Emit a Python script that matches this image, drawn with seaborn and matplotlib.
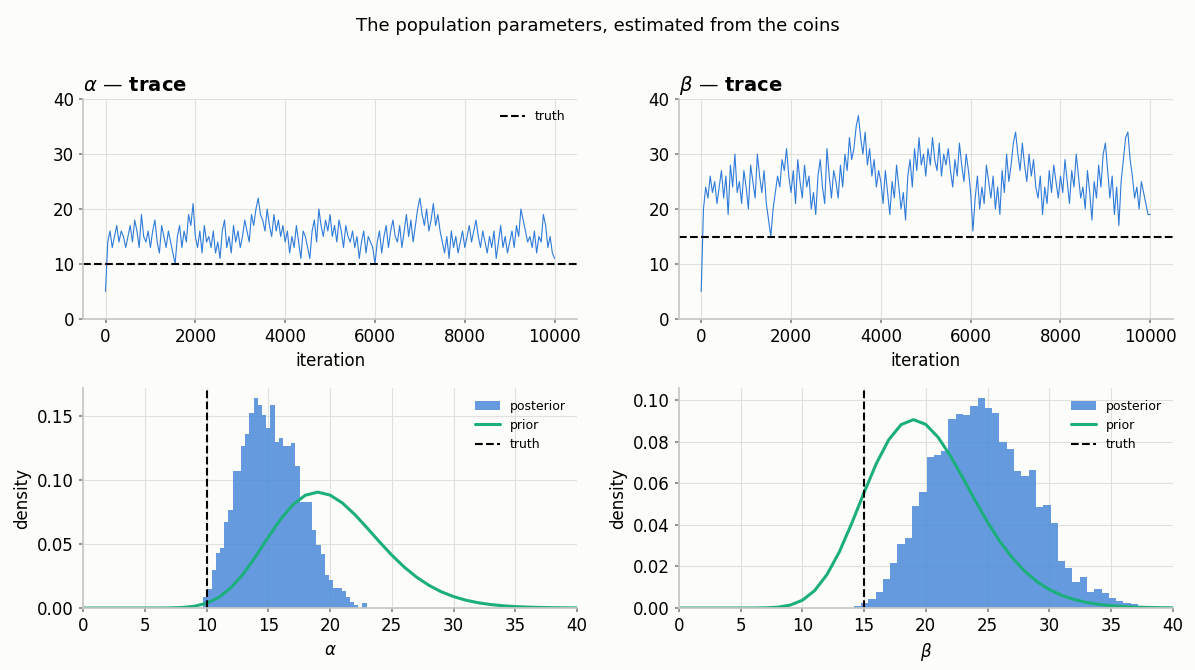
import numpy as np
import matplotlib
matplotlib.use("Agg")
import matplotlib.pyplot as plt
import seaborn as sns

# trace samples read every 50 iterations
trace_iter = list(range(0, 10001, 50))
alpha_trace = [
    5, 14, 16, 13, 15, 17, 14, 16, 15, 13,
    15, 17, 14, 18, 16, 13, 19, 15, 14, 16,
    13, 16, 18, 14, 12, 17, 15, 13, 16, 14,
    12, 10, 15, 17, 13, 16, 14, 19, 17, 21,
    15, 13, 16, 12, 17, 14, 15, 13, 16, 12,
    14, 11, 16, 18, 13, 15, 12, 17, 14, 16,
    13, 15, 18, 16, 14, 19, 17, 20, 22, 19,
    18, 16, 20, 17, 15, 19, 16, 18, 15, 17,
    14, 16, 12, 15, 13, 17, 14, 11, 16, 15,
    13, 11, 16, 18, 14, 20, 17, 15, 18, 16,
    19, 15, 17, 14, 18, 16, 13, 17, 15, 14,
    16, 13, 15, 11, 14, 16, 12, 15, 14, 13,
    10, 14, 16, 12, 15, 17, 13, 16, 18, 15,
    14, 17, 13, 16, 19, 15, 18, 14, 17, 20,
    22, 19, 17, 20, 16, 18, 21, 17, 19, 16,
    14, 12, 15, 11, 16, 13, 15, 12, 14, 16,
    13, 15, 17, 14, 16, 18, 15, 13, 16, 14,
    12, 15, 13, 16, 11, 14, 17, 13, 15, 12,
    14, 16, 13, 17, 15, 20, 18, 16, 14, 15,
    13, 16, 12, 15, 14, 19, 17, 13, 15, 12,
    11]
beta_trace = [
    5, 20, 24, 22, 26, 23, 25, 21, 24, 27,
    22, 26, 19, 28, 24, 30, 23, 25, 21, 27,
    24, 20, 28, 25, 22, 30, 26, 23, 27, 21,
    18, 15, 20, 23, 26, 24, 29, 27, 31, 26,
    23, 27, 21, 29, 25, 22, 28, 24, 26, 20,
    23, 19, 26, 29, 24, 21, 31, 26, 22, 27,
    25, 22, 28, 24, 30, 27, 33, 29, 31, 35,
    37, 33, 30, 34, 28, 31, 26, 29, 24, 27,
    25, 21, 27, 23, 19, 25, 22, 28, 24, 20,
    23, 18, 26, 29, 24, 31, 27, 33, 28, 30,
    26, 31, 28, 33, 29, 27, 32, 26, 30, 28,
    31, 27, 24, 29, 26, 32, 28, 25, 30, 27,
    23, 16, 22, 26, 20, 24, 21, 28, 25, 22,
    26, 20, 24, 19, 27, 23, 30, 25, 28, 32,
    34, 30, 27, 32, 28, 25, 30, 26, 29, 24,
    22, 26, 19, 24, 21, 27, 23, 28, 25, 22,
    26, 23, 29, 25, 21, 27, 24, 30, 26, 22,
    24, 20, 27, 23, 18, 25, 22, 28, 24, 30,
    32, 27, 22, 26, 19, 24, 17, 25, 29, 33,
    34, 29, 26, 22, 24, 20, 25, 23, 21, 19,
    19]

# posterior histograms (bin start, bin width, densities)
alpha_bin_start, alpha_bin_width = 9.74, 0.339
alpha_density = [0.009, 0.015, 0.030, 0.043, 0.047, 0.067, 0.077, 0.107, 0.107, 0.127,
                 0.136, 0.153, 0.164, 0.159, 0.151, 0.141, 0.159, 0.130, 0.133, 0.127,
                 0.127, 0.129, 0.111, 0.083, 0.083, 0.083, 0.061, 0.049, 0.042, 0.026,
                 0.022, 0.016, 0.016, 0.013, 0.009, 0.0047, 0.0023, 0.0, 0.004]
beta_bin_start, beta_bin_width = 14.17, 0.59
beta_density = [0.001, 0.0026, 0.0045, 0.0077, 0.014, 0.0216, 0.031, 0.0336, 0.049, 0.056,
                0.0726, 0.0739, 0.0755, 0.0909, 0.0933, 0.0929, 0.0973, 0.101, 0.0962, 0.0938,
                0.0799, 0.0768, 0.066, 0.0635, 0.0663, 0.0486, 0.0495, 0.041, 0.0226, 0.0193,
                0.0125, 0.0149, 0.0078, 0.0091, 0.0071, 0.0048, 0.0035, 0.0026, 0.0018, 0.001,
                0.0005]

# prior density at x = 0..40
prior_x = list(range(0, 41))
prior_y = [0, 0, 0, 0, 0, 0.000001, 0.000013, 0.000085, 0.000396, 0.00137,
           0.00372, 0.00836, 0.0161, 0.0270, 0.0407, 0.0555, 0.0696, 0.0810, 0.0883, 0.0907,
           0.0884, 0.0822, 0.0732, 0.0627, 0.0518, 0.0414, 0.0321, 0.0242, 0.0178, 0.01274,
           0.00893, 0.00612, 0.00412, 0.00272, 0.00176, 0.00113, 0.00071, 0.00044, 0.00027, 0.00016,
           0.0001]

alpha_truth, beta_truth = 10, 15

BG = "#fcfcfa"
BLUE = "#2f7bd9"
HIST = "#4a8ad9"
GREEN = "#1caf7c"

sns.set_theme(style="whitegrid")
plt.rcParams["font.family"] = ["DejaVu Sans"]
plt.rcParams.update({"text.color": "black", "axes.labelcolor": "black",
                     "xtick.color": "black", "ytick.color": "black"})

fig = plt.figure(figsize=(11.95, 6.7), dpi=100, facecolor=BG)
fig.suptitle("The population parameters, estimated from the coins", fontsize=13, y=0.975)

W, H = 0.4134, 0.328
positions = {"at": (0.0695, 0.524), "bt": (0.568, 0.524),
             "ah": (0.0695, 0.0925), "bh": (0.568, 0.0925)}
axes = {k: fig.add_axes([v[0], v[1], W, H]) for k, v in positions.items()}


def style(ax):
    ax.set_facecolor(BG)
    ax.grid(True, color="#e0e0dc", linewidth=0.8)
    for s in ["top", "right"]:
        ax.spines[s].set_visible(False)
    for s in ["left", "bottom"]:
        ax.spines[s].set_color("#c8c8c4")
    ax.tick_params(axis="both", labelsize=12, length=3, color="#888888", bottom=True, left=True)


for key, trace, truth, name in [("at", alpha_trace, alpha_truth, r"$\alpha$"),
                                ("bt", beta_trace, beta_truth, r"$\beta$")]:
    ax = axes[key]
    style(ax)
    sns.lineplot(x=trace_iter, y=trace, ax=ax, color=BLUE, linewidth=0.8)
    ax.axhline(truth, color="black", linestyle="--", linewidth=1.5, label="truth")
    ax.set_xlim(-500, 10500)
    ax.set_ylim(0, 40)
    ax.set_xlabel("iteration", fontsize=12)
    ax.set_title(name + " — trace", loc="left", fontsize=14, fontweight="bold")
axes["at"].legend(loc="upper right", frameon=False, fontsize=9)

for key, start, width, dens, truth, name, ytop in [
        ("ah", alpha_bin_start, alpha_bin_width, alpha_density, alpha_truth, r"$\alpha$", 0.172),
        ("bh", beta_bin_start, beta_bin_width, beta_density, beta_truth, r"$\beta$", 0.1058)]:
    ax = axes[key]
    style(ax)
    edges = [start + width * i for i in range(len(dens) + 1)]
    centers = [(edges[i] + edges[i + 1]) / 2 for i in range(len(dens))]
    sns.histplot(x=centers, weights=dens, bins=edges, ax=ax, color=HIST, alpha=0.85,
                 linewidth=0, label="posterior")
    sns.lineplot(x=prior_x, y=prior_y, ax=ax, color=GREEN, linewidth=2.2, label="prior")
    ax.axvline(truth, color="black", linestyle="--", linewidth=1.5, label="truth")
    ax.set_xlim(0, 40)
    ax.set_ylim(0, ytop)
    ax.set_xlabel(name, fontsize=12)
    ax.set_ylabel("density", fontsize=12)
    handles, labels = ax.get_legend_handles_labels()
    order = [labels.index(l) for l in ["posterior", "prior", "truth"]]
    ax.legend([handles[i] for i in order], [labels[i] for i in order],
              loc="upper right", frameon=False, fontsize=9)

fig.savefig("out.png", dpi=100, facecolor=BG)
